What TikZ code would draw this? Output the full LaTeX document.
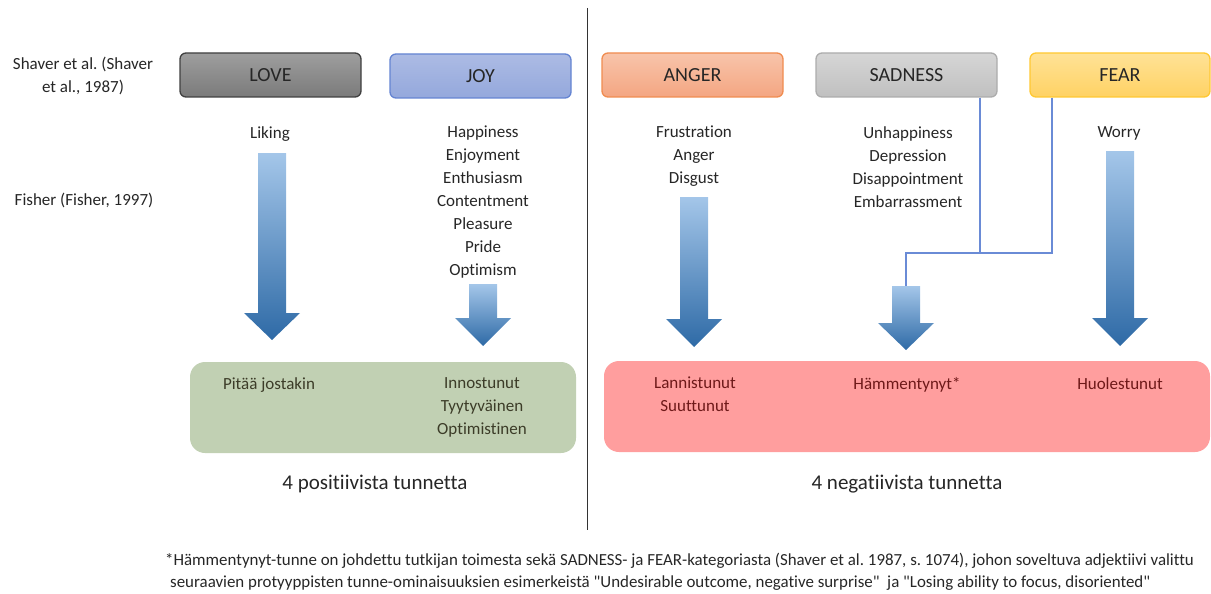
\documentclass[tikz,border=0pt]{standalone}
\usepackage{fontspec}
\setmainfont{Carlito}[Ligatures={CommonOff,ContextualOff}]
\usepackage{xcolor}
\definecolor{arrowtop}{HTML}{A4C6E9}
\definecolor{arrowbot}{HTML}{2E6AA6}
\definecolor{linkblue}{HTML}{6A8BD6}
\definecolor{posgreen}{HTML}{C1D0B3}
\definecolor{negred}{HTML}{FF9E9E}
\definecolor{postext}{HTML}{3C3C28}
\definecolor{negtext}{HTML}{6E1919}
\usetikzlibrary{positioning,calc}
\frenchspacing

% block arrow: x centre, shaft top, head start, tip
\newcommand{\emoarrow}[4]{%
  \shade[top color=arrowtop, bottom color=arrowbot]
    (#1-14,#2) -- (#1+14,#2) -- (#1+14,#3) -- (#1+28,#3) -- (#1,#4)
    -- (#1-28,#3) -- (#1-14,#3) -- cycle;}

\begin{document}
\begin{tikzpicture}[x=1pt, y=-1pt,
      cat/.style={draw, line width=1.3pt, rounded corners=6pt, minimum width=181pt, minimum height=44pt, font=\fontsize{20}{24}\selectfont, text=black!85},
      lst/.style={align=center, anchor=north, inner sep=0pt, font=\fontsize{17}{23}\selectfont, text=black!85},
      box/.style={rounded corners=15pt, inner sep=0pt},
      link/.style={draw=linkblue, line width=1.2pt}
    ]
    \useasboundingbox (0,0) rectangle (1211,594);
    \node[lst] (shaver) at (83,57) {Shaver et al. (Shaver\\et al., 1987)};
    \node[lst] (fisher) at (84,193) {Fisher (Fisher, 1997)};
    \node[cat, top color=black!38, bottom color=black!52, draw=black!75] (love) at (270.5,75) {LOVE};
    \node[cat, top color={rgb,255:red,172;green,187;blue,228}, bottom color={rgb,255:red,148;green,168;blue,220}, draw={rgb,255:red,100;green,132;blue,210}] (joy) at (480.5,76) {JOY};
    \node[cat, top color={rgb,255:red,248;green,196;blue,170}, bottom color={rgb,255:red,244;green,166;blue,130}, draw={rgb,255:red,240;green,140;blue,80}] (anger) at (692.5,75) {ANGER};
    \node[cat, top color={rgb,255:red,214;green,214;blue,214}, bottom color={rgb,255:red,192;green,192;blue,192}, draw={rgb,255:red,172;green,172;blue,172}] (sad) at (906.5,75) {SADNESS};
    \node[cat, minimum width=180pt, top color={rgb,255:red,255;green,226;blue,150}, bottom color={rgb,255:red,255;green,210;blue,100}, draw={rgb,255:red,255;green,200;blue,50}] (fear) at (1120,75) {FEAR};
    \node[lst] (liking) at (270,126) {Liking};
    \node[lst] (joylist) at (483,126) {Happiness\\Enjoyment\\Enthusiasm\\Contentment\\Pleasure\\Pride\\Optimism};
    \node[lst] (angerlist) at (694,126) {Frustration\\Anger\\Disgust};
    \node[lst] (sadlist) at (908,126) {Unhappiness\\Depression\\Disappointment\\Embarrassment};
    \node[lst] (worry) at (1119,126) {Worry};
    \emoarrow{272}{153}{313}{340}
    \emoarrow{483}{284}{318}{346}
    \emoarrow{694}{197}{319}{347}
    \emoarrow{906}{286}{323}{350}
    \emoarrow{1120}{151}{318}{346}
    \coordinate (join) at (980,253);
    \coordinate (sadtop) at (906,286);
    \draw[link] (sad.south -| join) -- (join);
    \draw[link] (fear.south -| 1052,0) -- (1052,253) -| (sadtop);
    \fill[posgreen, box] (190,362) rectangle (576,453);
    \fill[negred, box] (604,361) rectangle (1210,452);
    \node[lst, text=postext] (pitaa) at (269,377) {Pitää jostakin};
    \node[lst, text=postext] (innostunut) at (482,377) {Innostunut\\Tyytyväinen\\Optimistinen};
    \node[lst, text=negtext] (lannistunut) at (695,377) {Lannistunut\\Suuttunut};
    \node[lst, text=negtext] (hammentynyt) at (907,377) {Hämmentynyt*};
    \node[lst, text=negtext] (huolestunut) at (1120,377) {Huolestunut};
    \node[lst, font=\fontsize{21}{25}\selectfont] (pos) at (375,475) {4 positiivista tunnetta};
    \node[lst, font=\fontsize{21}{25}\selectfont] (neg) at (907,475) {4 negatiivista tunnetta};
    \draw[line width=1.3pt, black!80] (587.5,8) -- (587.5,530);
    \node[lst, anchor=north west, align=left, font=\fontsize{16.9}{22}\selectfont] (note) at (165,553)
      {*Hämmentynyt-tunne on johdettu tutkijan toimesta sekä SADNESS- ja FEAR-kategoriasta (Shaver et al. 1987, s. 1074), johon soveltuva adjektiivi valittu\\
      \hspace*{5pt}seuraavien protyyppisten tunne-ominaisuuksien esimerkeistä \textquotedbl Undesirable outcome, negative surprise\textquotedbl\ \ ja \textquotedbl Losing ability to focus, disoriented\textquotedbl};
  \end{tikzpicture}
\end{document}
